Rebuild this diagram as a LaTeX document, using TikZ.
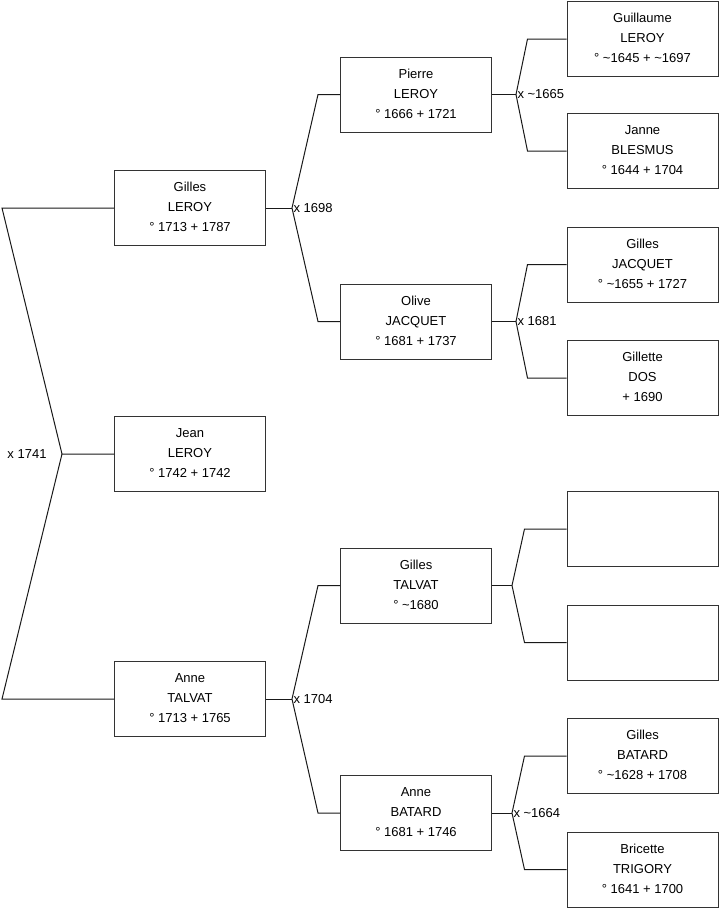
\documentclass[tikz,border=0pt]{standalone}
\usepackage{fontspec}
\setmainfont{Liberation Sans}
\usetikzlibrary{positioning}
\begin{document}
\begin{tikzpicture}[x=1pt, y=-1pt, font=\fontsize{13}{20}\selectfont, line width=1pt,
  personne/.style={draw=black!80, minimum width=151pt, minimum height=75pt, align=center, inner sep=0pt, text depth=2pt},
  lien/.style={draw=black!90},
  mariage/.style={right, inner sep=1pt}]
  \useasboundingbox (0,0) rectangle (719,908);

  % Enfant et parents
  \node[personne] (gilles) at (190,208) {Gilles\\LEROY\\° 1713 + 1787};
  \node[personne] (jean) at (190,454) {Jean\\LEROY\\° 1742 + 1742};
  \node[personne] (anne) at (190,699) {Anne\\TALVAT\\° 1713 + 1765};

  % Grands-parents
  \node[personne] (pierre) at (416,94.5) {Pierre\\LEROY\\° 1666 + 1721};
  \node[personne] (olive) at (416,321.5) {Olive\\JACQUET\\° 1681 + 1737};
  \node[personne] (gillesT) at (416,585.5) {Gilles\\TALVAT\\° \textasciitilde1680};
  \node[personne] (anneB) at (416,813) {Anne\\BATARD\\° 1681 + 1746};

  % Arriere-grands-parents
  \node[personne] (guillaume) at (642.5,39) {Guillaume\\LEROY\\° \textasciitilde1645 + \textasciitilde1697};
  \node[personne] (janne) at (642.5,151) {Janne\\BLESMUS\\° 1644 + 1704};
  \node[personne] (gillesJ) at (642.5,264.5) {Gilles\\JACQUET\\° \textasciitilde1655 + 1727};
  \node[personne] (gillette) at (642.5,378) {Gillette\\DOS\\+ 1690};
  \node[personne] (inconnu1) at (642.5,529) {};
  \node[personne] (inconnu2) at (642.5,642.5) {};
  \node[personne] (gillesB) at (642.5,756) {Gilles\\BATARD\\° \textasciitilde1628 + 1708};
  \node[personne] (bricette) at (642.5,869.5) {Bricette\\TRIGORY\\° 1641 + 1700};

  % Liens
  \coordinate (m1) at (62,454);
  \draw[lien] (gilles.west) -- ++(-112,0) -- (m1) -- (jean.west);
  \draw[lien] (anne.west) -- ++(-112,0) -- (m1);
  \node[left=14pt of m1, inner sep=1pt] (mar1) {x 1741};

  \draw[lien] (gilles.east) -- ++(26,0) coordinate (m2) node[mariage] {x 1698};
  \draw[lien] (pierre.west) -- ++(-22,0) -- (m2) -- ([xshift=-22pt]olive.west) -- (olive.west);

  \draw[lien] (anne.east) -- ++(26,0) coordinate (m3) node[mariage] {x 1704};
  \draw[lien] (gillesT.west) -- ++(-22,0) -- (m3) -- ([xshift=-22pt]anneB.west) -- (anneB.west);

  \draw[lien] (pierre.east) -- ++(24,0) coordinate (m4) node[mariage] {x \textasciitilde1665};
  \draw[lien] (guillaume.west) -- ++(-39,0) -- (m4) -- ([xshift=-39pt]janne.west) -- (janne.west);

  \draw[lien] (olive.east) -- ++(24,0) coordinate (m5) node[mariage] {x 1681};
  \draw[lien] (gillesJ.west) -- ++(-39,0) -- (m5) -- ([xshift=-39pt]gillette.west) -- (gillette.west);

  \draw[lien] (gillesT.east) -- ++(20,0) coordinate (m6);
  \draw[lien] (inconnu1.west) -- ++(-42,0) -- (m6) -- ([xshift=-42pt]inconnu2.west) -- (inconnu2.west);

  \draw[lien] (anneB.east) -- ++(20,0) coordinate (m7) node[mariage] {x \textasciitilde1664};
  \draw[lien] (gillesB.west) -- ++(-42,0) -- (m7) -- ([xshift=-42pt]bricette.west) -- (bricette.west);
\end{tikzpicture}
\end{document}
